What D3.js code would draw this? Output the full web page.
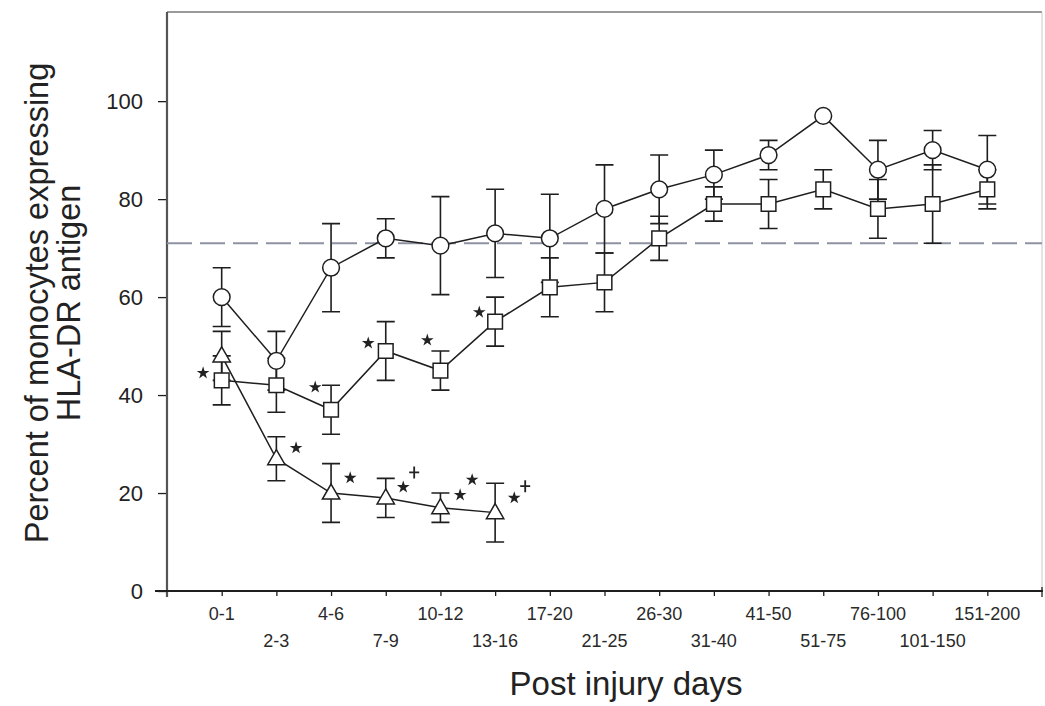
<!DOCTYPE html>
<html>
<head>
<meta charset="utf-8">
<script src="https://cdn.jsdelivr.net/npm/d3@7"></script>
<style>
  html, body { margin: 0; padding: 0; background: #fff; }
  svg { display: block; }
  text { font-family: Arial, "Liberation Sans", sans-serif; }
</style>
</head>
<body>
<svg id="chart" width="1045" height="706"></svg>
<script>
// ---------- data ----------
const categories = ["0-1","2-3","4-6","7-9","10-12","13-16","17-20","21-25","26-30","31-40","41-50","51-75","76-100","101-150","151-200"];
const circleValues   = [60, 47, 66, 72, 70.5, 73, 72, 78, 82, 85, 89, 97, 86, 90, 86];
const circleErrors   = [6, 6, 9, 4, 10, 9, 9, 9, 7, 5, 3, 0, 6, 4, 7];
const squareValues   = [43, 42, 37, 49, 45, 55, 62, 63, 72, 79, 79, 82, 78, 79, 82];
const squareErrors   = [5, 5.5, 5, 6, 4, 5, 6, 6, 4.5, 3.5, 5, 4, 6, 8, 4];
const triangleValues = [48, 27, 20, 19, 17, 16];
const triangleErrors = [5, 4.5, 6, 4, 3, 6];
const referenceValue = 71;
const yTickValues = [0, 20, 40, 60, 80, 100];
// significance marks, in data units: category index and value
const starMarks = [
  {i: -0.34, v: 44.5}, {i: 1.36, v: 29.2}, {i: 1.71, v: 41.6}, {i: 2.35, v: 23.1},
  {i: 2.68, v: 50.6}, {i: 3.32, v: 21.2}, {i: 3.76, v: 51.2}, {i: 4.36, v: 19.6},
  {i: 4.58, v: 22.7}, {i: 4.71, v: 56.9}, {i: 5.35, v: 19.0}
];
const plusMarks = [ {i: 3.52, v: 24.2}, {i: 5.55, v: 21.4} ];
const xTitle = "Post injury days";
const yTitleLines = ["Percent of monocytes expressing", "HLA-DR antigen"];

// ---------- layout ----------
const svg = d3.select("#chart");
const pL = 167, pR = 1042, pT = 12, pB = 591;
const x = d3.scaleLinear().domain([-1, 15]).range([pL, pR]);
const y = d3.scaleLinear().domain([0, 118.2]).range([pB, pT]);
const ink = "#1e1e1e";

// frame (top/right)
svg.append("line").attr("x1", pL).attr("x2", pR).attr("y1", pT).attr("y2", pT)
  .attr("stroke", "#9a9a9a").attr("stroke-width", 2);
svg.append("line").attr("x1", pR).attr("x2", pR).attr("y1", pT).attr("y2", pB)
  .attr("stroke", "#c8c8c8").attr("stroke-width", 1);

// y axis
const yAxis = d3.axisLeft(y).tickValues(yTickValues).tickSize(9).tickSizeOuter(0).tickPadding(15);
const gy = svg.append("g").attr("transform", `translate(${pL},0)`).call(yAxis);
gy.select(".domain").remove();
gy.selectAll(".tick line").attr("stroke", ink).attr("stroke-width", 1.3);
gy.selectAll(".tick text").attr("font-size", 22).attr("fill", "#222");
svg.append("line").attr("x1", pL).attr("x2", pL).attr("y1", pT).attr("y2", pB + 6)
  .attr("stroke", "#555").attr("stroke-width", 2.2);

// x axis
const idx = d3.range(categories.length);
const xAxis = d3.axisBottom(x).tickValues(idx).tickSize(5).tickSizeOuter(0).tickFormat("");
const gx = svg.append("g").attr("transform", `translate(0,${pB})`).call(xAxis);
gx.select(".domain").remove();
gx.selectAll(".tick line").attr("stroke", ink).attr("stroke-width", 1.3);
svg.append("line").attr("x1", pL - 12).attr("x2", pR + 1).attr("y1", pB).attr("y2", pB)
  .attr("stroke", ink).attr("stroke-width", 1.8);
svg.append("line").attr("x1", pR).attr("x2", pR).attr("y1", pB - 4).attr("y2", pB + 6)
  .attr("stroke", ink).attr("stroke-width", 1.3);

svg.append("g").selectAll("text").data(categories).join("text")
  .attr("x", (d, i) => x(i))
  .attr("y", (d, i) => i % 2 === 0 ? 620 : 647)
  .attr("text-anchor", "middle")
  .attr("font-size", 18)
  .attr("fill", "#2a2a2a")
  .text(d => d);

// titles
svg.append("text").attr("x", 626).attr("y", 695).attr("text-anchor", "middle")
  .attr("font-size", 33).attr("fill", "#222").text(xTitle);
svg.append("g").selectAll("text").data(yTitleLines).join("text")
  .attr("transform", (d, i) => `translate(${i === 0 ? 48 : 80},303) rotate(-90)`)
  .attr("text-anchor", "middle")
  .attr("font-size", 32.5).attr("fill", "#222").text(d => d);

// reference dashed line
svg.append("line").attr("x1", pL).attr("x2", pR).attr("y1", y(referenceValue)).attr("y2", y(referenceValue))
  .attr("stroke", "#8e93a3").attr("stroke-width", 2).attr("stroke-dasharray", "25,8");

// series
const series = [
  {values: circleValues, errors: circleErrors, shape: "circle"},
  {values: squareValues, errors: squareErrors, shape: "square"},
  {values: triangleValues, errors: triangleErrors, shape: "triangle"}
];
const cap = 9;
const gErr = svg.append("g");
const gLine = svg.append("g");
const gMark = svg.append("g");
const lineGen = d3.line().x((d, i) => x(i)).y(d => y(d));

series.forEach(s => {
  const pts = s.values.map((v, i) => ({i, v, e: s.errors[i]})).filter(p => p.e > 0);
  const eg = gErr.append("g").attr("stroke", ink).attr("stroke-width", 1.6).attr("fill", "none");
  eg.selectAll("path").data(pts).join("path")
    .attr("d", p => {
      const cx = x(p.i), yt = y(p.v + p.e), yb = y(p.v - p.e);
      return `M${cx},${yt}V${yb}M${cx - cap},${yt}H${cx + cap}M${cx - cap},${yb}H${cx + cap}`;
    });
  gLine.append("path").datum(s.values).attr("d", lineGen)
    .attr("fill", "none").attr("stroke", ink).attr("stroke-width", 1.5);
});

series.forEach(s => {
  const sel = gMark.append("g").selectAll("path").data(s.values).join("path")
    .attr("transform", (d, i) => `translate(${x(i)},${y(d)})`)
    .attr("fill", "#fff").attr("stroke", ink).attr("stroke-width", 1.5);
  if (s.shape === "circle") sel.attr("d", d3.symbol(d3.symbolCircle, 220)());
  if (s.shape === "square") sel.attr("d", d3.symbol(d3.symbolSquare, 215)());
  if (s.shape === "triangle") sel.attr("d", d3.symbol(d3.symbolTriangle, 130)()).attr("transform", (d, i) => `translate(${x(i)},${y(d) + 1})`);
});

// significance marks
svg.append("g").selectAll("path").data(starMarks).join("path")
  .attr("transform", d => `translate(${x(d.i)},${y(d.v)})`)
  .attr("d", d3.symbol(d3.symbolStar, 50)())
  .attr("fill", "#222");
svg.append("g").selectAll("path").data(plusMarks).join("path")
  .attr("transform", d => `translate(${x(d.i)},${y(d.v)})`)
  .attr("d", "M-5,0H5M0,-6V6")
  .attr("stroke", "#222").attr("stroke-width", 1.8).attr("fill", "none");
</script>
</body>
</html>
